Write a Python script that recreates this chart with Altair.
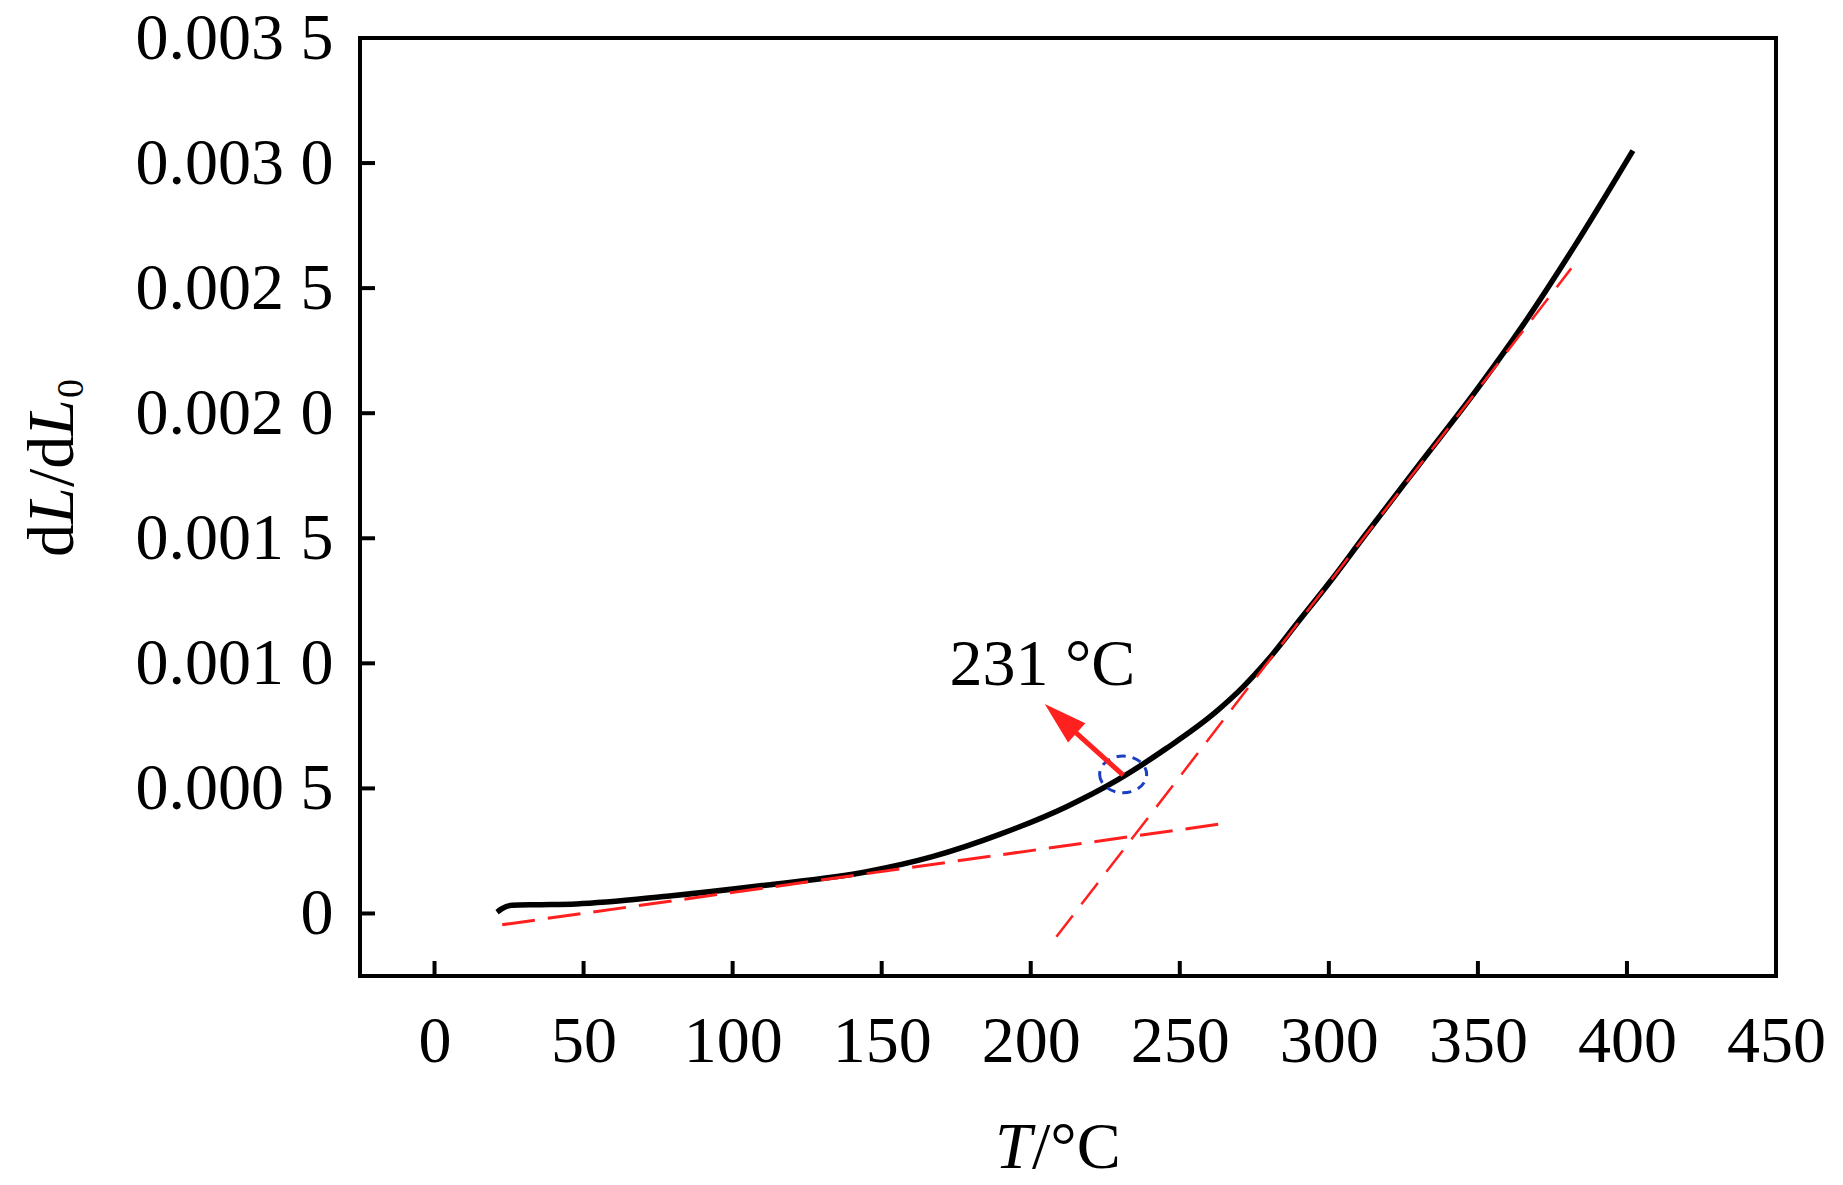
import altair as alt
import pandas as pd

# ---- data ----
curve_T = [21, 22.5, 26, 35, 47.5, 78, 111, 145, 167, 190, 212, 229, 245.5, 262, 271, 280,
           290, 300, 312, 330, 350, 365, 382, 402]
curve_v = [0.000005, 0.000018, 0.000033, 0.000035, 0.000038, 0.000069, 0.000113, 0.000167,
           0.000227, 0.000318, 0.000427, 0.000533, 0.000660, 0.000805, 0.000903, 0.00102,
           0.00117, 0.00132, 0.00151, 0.00179, 0.00210, 0.00235, 0.00266, 0.00305]

tan1_T = [22.7, 266.8]
tan1_v = [-0.0000450, 0.000363]
tan2_T = [208.6, 381.3]
tan2_v = [-0.0000933, 0.002579]

x_ticks = [0, 50, 100, 150, 200, 250, 300, 350, 400, 450]
y_ticks = [0, 0.0005, 0.001, 0.0015, 0.002, 0.0025, 0.003, 0.0035]

onset_T = [231.0]
onset_v = [0.000556]
arrow_tail_T = [231.0]
arrow_tail_v = [0.000553]
arrow_neck_T = [214.0]
arrow_neck_v = [0.000735]
arrow_tip_T = [204.7]
arrow_tip_v = [0.000837]
note_T = [203.9]
note_v = [0.000913]
note_text = ["231 °C"]

FONT = "Liberation Serif"
W, H = 1416, 938

xs = alt.Scale(domain=[-25, 450], nice=False, zero=False)
ys = alt.Scale(domain=[-0.00025, 0.0035], nice=False, zero=False)

xaxis = alt.Axis(values=x_ticks, title=None, grid=False, domain=False, ticks=False, tickSize=0,
                 labelFont=FONT, labelFontSize=66, labelColor="black", labelPadding=33,
                 labelFlush=False, labelOverlap=False, labelLimit=400)
yaxis = alt.Axis(values=y_ticks, title=None, grid=False, domain=False, ticks=False, tickSize=0,
                 labelFont=FONT, labelFontSize=66, labelColor="black", labelPadding=27,
                 labelFlush=False, labelOverlap=False, labelLimit=400,
                 labelExpr="datum.value == 0 ? '0' : slice(format(datum.value, '.4f'), 0, 5) + ' ' + slice(format(datum.value, '.4f'), 5)")

df_curve = pd.DataFrame({"T": curve_T, "v": curve_v})
curve = alt.Chart(df_curve).mark_line(color="black", strokeWidth=5.5, interpolate="monotone").encode(
    x=alt.X("T:Q", scale=xs, axis=xaxis),
    y=alt.Y("v:Q", scale=ys, axis=yaxis),
)

tan1 = alt.Chart(pd.DataFrame({"T": tan1_T, "v": tan1_v})).mark_line(
    color="#ff1f1f", strokeWidth=3, strokeDash=[33, 13]).encode(
    x=alt.X("T:Q", scale=xs), y=alt.Y("v:Q", scale=ys))
tan2 = alt.Chart(pd.DataFrame({"T": tan2_T, "v": tan2_v})).mark_line(
    color="#ff1f1f", strokeWidth=2.5, strokeDash=[27, 14]).encode(
    x=alt.X("T:Q", scale=xs), y=alt.Y("v:Q", scale=ys))

# inward ticks
ytick_rules = alt.Chart(pd.DataFrame({"v": y_ticks})).mark_rule(color="black", strokeWidth=4).encode(
    y=alt.Y("v:Q", scale=ys), x=alt.value(0), x2=alt.value(15))
xtick_rules = alt.Chart(pd.DataFrame({"T": x_ticks})).mark_rule(color="black", strokeWidth=4).encode(
    x=alt.X("T:Q", scale=xs), y=alt.value(H), y2=alt.value(H - 15))

# blue dashed ellipse at onset
circle = alt.Chart(pd.DataFrame({"T": onset_T, "v": onset_v})).mark_point(
    shape="M -1 0 A 1 0.78 0 1 0 1 0 A 1 0.78 0 1 0 -1 0 Z", size=2209, filled=False,
    color="#1a3fc0", strokeWidth=3, strokeDash=[9, 7], opacity=1).encode(
    x=alt.X("T:Q", scale=xs), y=alt.Y("v:Q", scale=ys))

# arrow
shaft = alt.Chart(pd.DataFrame({"T": arrow_tail_T, "v": arrow_tail_v,
                                "T2": arrow_neck_T, "v2": arrow_neck_v})).mark_rule(
    color="#ff2020", strokeWidth=5).encode(
    x=alt.X("T:Q", scale=xs), y=alt.Y("v:Q", scale=ys), x2="T2:Q", y2="v2:Q")
head = alt.Chart(pd.DataFrame({"T": arrow_tip_T, "v": arrow_tip_v})).mark_point(
    shape="M 0 0 L 0.3 1 L -0.3 1 Z", size=7396, angle=312, filled=True,
    color="#ff2020", opacity=1).encode(
    x=alt.X("T:Q", scale=xs), y=alt.Y("v:Q", scale=ys))

note = alt.Chart(pd.DataFrame({"T": note_T, "v": note_v, "t": note_text})).mark_text(
    font=FONT, fontSize=66, color="black", align="center", baseline="alphabetic").encode(
    x=alt.X("T:Q", scale=xs), y=alt.Y("v:Q", scale=ys), text="t:N")

dummy = pd.DataFrame({"a": [0]})

def txt(s, x, y, size=66, style="normal", angle=0, align="left"):
    return alt.Chart(dummy).mark_text(
        font=FONT, fontSize=size, fontStyle=style, color="black", align=align,
        baseline="alphabetic", angle=angle).encode(
        x=alt.value(x), y=alt.value(y), text=alt.value(s))

# x title  T/°C
xt1 = txt("T", 635, 1130, style="italic")
xt2 = txt("/°C", 672, 1130)

# y title  dL/dL0 (rotated)
bx = -287
yt1 = txt("d", bx, 519, angle=270)
yt2 = txt("L", bx, 486, style="italic", angle=270)
yt3 = txt("/d", bx, 449, angle=270)
yt4 = txt("L", bx, 398, style="italic", angle=270)
yt5 = txt("0", bx + 10, 360, size=38, angle=270)

chart = alt.layer(
    curve, tan1, tan2, ytick_rules, xtick_rules, circle, shaft, head, note,
    xt1, xt2, yt1, yt2, yt3, yt4, yt5,
).properties(
    width=W, height=H,
    autosize=alt.AutoSizeParams(type="none"),
    padding={"left": 352, "top": 30, "right": 50, "bottom": 198},
    background="white",
).configure_view(stroke="black", strokeWidth=4)

chart.save("out.html", embed_options={"renderer": "svg", "actions": False})
